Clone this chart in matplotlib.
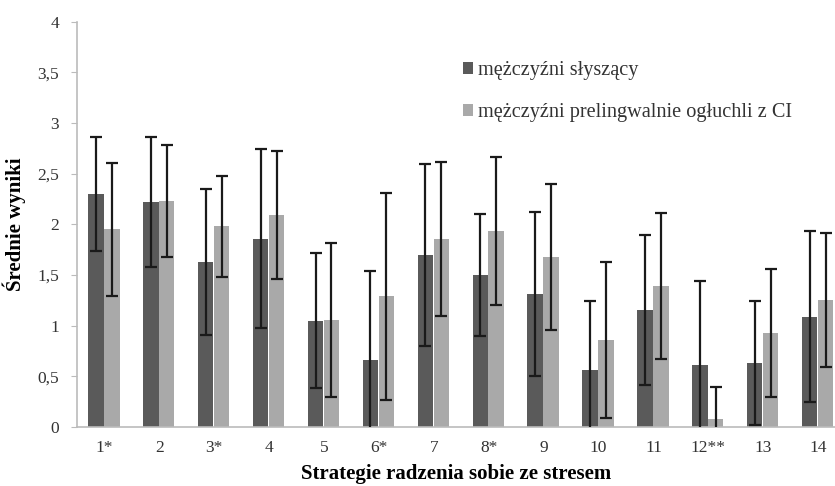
import matplotlib
matplotlib.use("Agg")
import matplotlib.pyplot as plt
import numpy as np

categories = ["1*", "2", "3*", "4", "5", "6*", "7", "8*", "9", "10", "11", "12**", "13", "14"]
hearing_mean = [2.30, 2.22, 1.63, 1.86, 1.05, 0.66, 1.70, 1.50, 1.31, 0.56, 1.15, 0.61, 0.63, 1.09]
hearing_sd = [0.56, 0.64, 0.72, 0.88, 0.67, 0.88, 0.90, 0.60, 0.81, 0.68, 0.74, 0.83, 0.61, 0.84]
deaf_mean = [1.95, 2.23, 1.98, 2.09, 1.06, 1.29, 1.86, 1.93, 1.68, 0.86, 1.39, 0.08, 0.93, 1.25]
deaf_sd = [0.66, 0.55, 0.50, 0.63, 0.76, 1.02, 0.76, 0.73, 0.72, 0.77, 0.72, 0.31, 0.63, 0.66]
label_hearing = "mężczyźni słyszący"
label_deaf = "mężczyźni prelingwalnie ogłuchli z CI"

plt.rcParams['font.family'] = ['Liberation Serif', 'DejaVu Serif']

fig = plt.figure(figsize=(8.35, 4.86), dpi=100)
ax = fig.add_axes([77/835, 59/486, (835-77)/835, (427-21.7)/486])

x = np.arange(len(categories))
w = 0.28
dark = "#5a5a5a"
light = "#a9a9a9"
ax.bar(x - 0.155, hearing_mean, w, color=dark, label=label_hearing, zorder=2)
ax.bar(x + 0.135, deaf_mean, w, color=light, label=label_deaf, zorder=2)
ek = dict(fmt='none', ecolor='#1a1a1a', elinewidth=1.6, capsize=4.5, capthick=1.6, zorder=3)
ax.errorbar(x - 0.155, hearing_mean, yerr=hearing_sd, **ek)
ax.errorbar(x + 0.135, deaf_mean, yerr=deaf_sd, **ek)

ax.set_xlim(-0.5, 13.307)
ax.set_ylim(0, 4)
ax.set_yticks(np.arange(0, 4.01, 0.5))
ax.set_yticklabels(["0", "0,5", "1", "1,5", "2", "2,5", "3", "3,5", "4"])
ax.set_xticks(x)
ax.set_xticklabels(categories)
ax.tick_params(axis='x', length=0, pad=9, labelsize=12.5, labelcolor='#333333')
ax.tick_params(axis='y', length=4, color='#bbbbbb', pad=9, labelsize=12.5, labelcolor='#333333')
for s in ['top', 'right']:
    ax.spines[s].set_visible(False)
for s in ['left', 'bottom']:
    ax.spines[s].set_color('#bbbbbb')
    ax.spines[s].set_linewidth(1.2)

ax.set_ylabel("Średnie wyniki", fontsize=15, fontweight='bold', labelpad=8)
ax.set_xlabel("Strategie radzenia sobie ze stresem", fontsize=15, fontweight='bold', labelpad=6)

leg = fig.legend(loc='upper left', bbox_to_anchor=(455/835, 1 - 53/486), frameon=False,
                 fontsize=14.6, handlelength=0.5, handleheight=0.5, handletextpad=0.25,
                 labelspacing=1.15, borderaxespad=0)
for t in leg.get_texts():
    t.set_color('#333333')

fig.savefig("out.png", dpi=100)
